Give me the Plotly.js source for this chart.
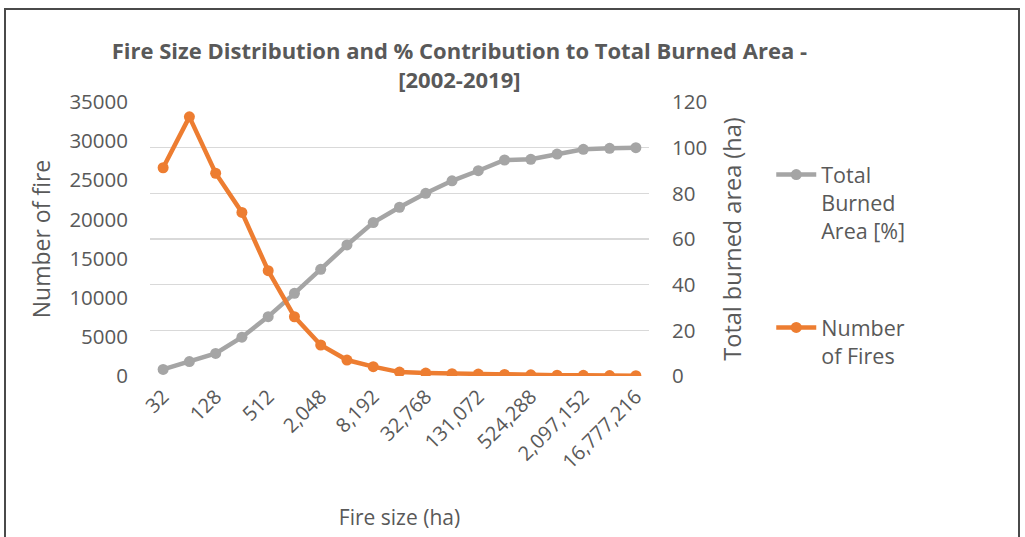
<!DOCTYPE html>
<html>
<head>
<meta charset="utf-8">
<script src="https://cdn.plot.ly/plotly-3.0.1.min.js"></script>
<style>
  html, body { margin: 0; padding: 0; background: #fff; }
  #wrap { position: relative; width: 1025px; height: 537px; overflow: hidden; }
  #chart { position: absolute; left: 0; top: 0; width: 1025px; height: 537px; }
  #frame { position: absolute; left: 4px; top: 8px; width: 1012px; height: 540px; border: 2px solid #4a4a4a; pointer-events: none; }
</style>
</head>
<body>
<div id="wrap">
  <div id="chart"></div>
  <div id="frame"></div>
</div>
<script>
// Fire size classes (ha)
const fireSizes = ["32","64","128","256","512","1,024","2,048","4,096","8,192","16,384","32,768","65,536","131,072","262,144","524,288","1,048,576","2,097,152","4,194,304","16,777,216"];
// Number of fires per class (left axis)
const numberOfFires = [26600, 33100, 25900, 20900, 13450, 7570, 3960, 2040, 1190, 500, 380, 300, 240, 190, 150, 110, 80, 60, 40];
// Cumulative total burned area [%] (right axis)
const totalBurnedArea = [2.9, 6.3, 9.9, 17, 26, 36.2, 46.7, 57.4, 67.2, 73.9, 80, 85.5, 89.9, 94.6, 94.9, 97.2, 99.3, 99.7, 100];
// Shown tick labels (every other class)
const shownTicks = fireSizes.filter((_, i) => i % 2 === 0);

const txt = '#595959';
const fontFam = '"Open Sans", "DejaVu Sans", sans-serif';

const traces = [
  {
    x: fireSizes, y: totalBurnedArea, yaxis: 'y',
    name: 'Total<br>Burned<br>Area [%]', legendgroup: 'a',
    mode: 'lines+markers',
    line: {color: '#A5A5A5', width: 4.5},
    marker: {color: '#A5A5A5', size: 11}
  },
  {
    x: fireSizes, y: numberOfFires, yaxis: 'y2',
    name: 'Number<br>of Fires', legendgroup: 'b',
    mode: 'lines+markers',
    line: {color: '#ED7D31', width: 4.5},
    marker: {color: '#ED7D31', size: 11}
  }
];

const layout = {
  width: 1025, height: 537,
  margin: {l: 150, r: 376, t: 102, b: 161},
  paper_bgcolor: '#ffffff', plot_bgcolor: '#ffffff',
  font: {family: fontFam, color: txt, size: 20},
  showlegend: true,
  title: {
    text: '<b>Fire Size Distribution and % Contribution to Total Burned Area -<br>[2002-2019]</b>',
    xref: 'paper', x: 0.62, xanchor: 'center',
    yref: 'container', y: 0.89, yanchor: 'top',
    font: {family: fontFam, size: 22, color: txt}
  },
  xaxis: {
    type: 'category',
    range: [-0.5, 18.5],
    tickmode: 'array', tickvals: shownTicks, ticktext: shownTicks,
    tickangle: -45,
    showgrid: false, zeroline: false, showline: false, ticks: '',
    tickfont: {size: 20, color: txt},
    ticklabelstandoff: 4,
    title: {text: 'Fire size (ha)', font: {size: 21, color: txt}, standoff: 36}
  },
  yaxis: {
    side: 'right',
    range: [0, 120], dtick: 20,
    showgrid: true, gridcolor: '#D9D9D9', gridwidth: 1.5,
    zeroline: false, showline: false, ticks: '',
    tickfont: {size: 20.5, color: txt},
    ticklabelstandoff: 22,
    title: {text: 'Total burned area (ha)', font: {size: 23.5, color: txt}, standoff: 18}
  },
  yaxis2: {
    overlaying: 'y', side: 'left',
    range: [0, 35000], dtick: 5000, tickformat: 'd',
    showgrid: false, zeroline: false, showline: false, ticks: '',
    tickfont: {size: 20.5, color: txt},
    ticklabelstandoff: 21,
    title: {text: 'Number of fire', font: {size: 23, color: txt}, standoff: 12}
  },
  legend: {
    x: 1.245, xanchor: 'left', y: 0.81, yanchor: 'top',
    traceorder: 'grouped', tracegroupgap: 66, valign: 'top',
    font: {size: 21.5, color: txt},
    bgcolor: 'rgba(0,0,0,0)', itemwidth: 40
  }
};

Plotly.newPlot('chart', traces, layout, {displayModeBar: false, staticPlot: true});
</script>
</body>
</html>
